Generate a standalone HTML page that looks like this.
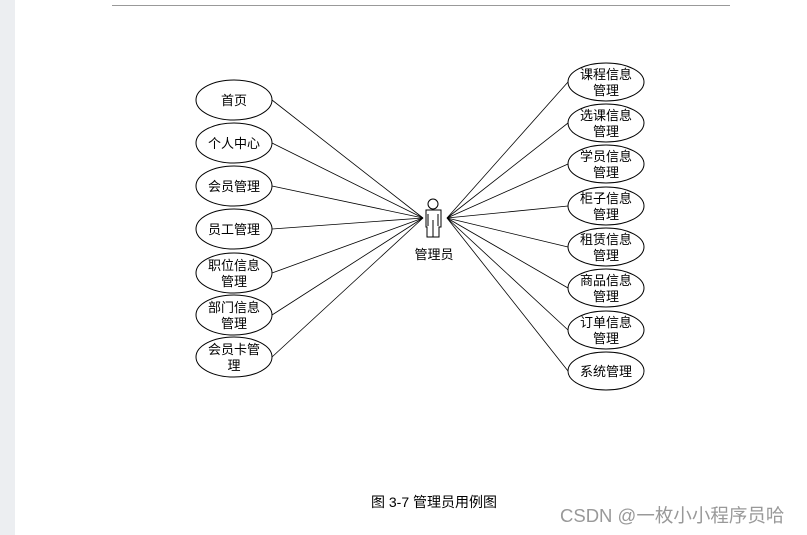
<!DOCTYPE html>
<html><head><meta charset="utf-8"><style>
body{margin:0;width:807px;height:535px;background:#fff;overflow:hidden;position:relative}
svg{position:absolute;left:0;top:0}
text{font-family:"Liberation Sans","Noto Sans CJK SC",sans-serif;font-size:13px;fill:#000}
</style></head><body>
<svg width="807" height="535">
<rect x="0" y="0" width="15" height="535" fill="#eceef1"/>
<line x1="112" y1="5.5" x2="730" y2="5.5" stroke="#999" stroke-width="1"/>
<g stroke="#000" stroke-width="0.8" fill="none">
<line x1="272" y1="100" x2="423" y2="218"/>
<line x1="272" y1="143" x2="423" y2="218"/>
<line x1="272" y1="186" x2="423" y2="218"/>
<line x1="272" y1="229" x2="423" y2="218"/>
<line x1="272" y1="273" x2="423" y2="218"/>
<line x1="272" y1="315" x2="423" y2="218"/>
<line x1="272" y1="357" x2="423" y2="218"/>
<line x1="568" y1="82" x2="447" y2="218"/>
<line x1="568" y1="123" x2="447" y2="218"/>
<line x1="568" y1="164" x2="447" y2="218"/>
<line x1="568" y1="206" x2="447" y2="218"/>
<line x1="568" y1="247" x2="447" y2="218"/>
<line x1="568" y1="288" x2="447" y2="218"/>
<line x1="568" y1="330" x2="447" y2="218"/>
<line x1="568" y1="371" x2="447" y2="218"/>
</g>
<g stroke="#000" stroke-width="1" fill="#fff">
<ellipse cx="234" cy="100" rx="38" ry="20"/>
<ellipse cx="234" cy="143" rx="38" ry="20"/>
<ellipse cx="234" cy="186" rx="38" ry="20"/>
<ellipse cx="234" cy="229" rx="38" ry="20"/>
<ellipse cx="234" cy="273" rx="38" ry="20"/>
<ellipse cx="234" cy="315" rx="38" ry="20"/>
<ellipse cx="234" cy="357" rx="38" ry="20"/>
<ellipse cx="606" cy="82" rx="38" ry="19"/>
<ellipse cx="606" cy="123" rx="38" ry="19"/>
<ellipse cx="606" cy="164" rx="38" ry="19"/>
<ellipse cx="606" cy="206" rx="38" ry="19"/>
<ellipse cx="606" cy="247" rx="38" ry="19"/>
<ellipse cx="606" cy="288" rx="38" ry="19"/>
<ellipse cx="606" cy="330" rx="38" ry="19"/>
<ellipse cx="606" cy="371" rx="38" ry="19"/>
<circle cx="433" cy="204" r="5"/>
<path d="M426 210 H441 V227 H439 V237 H427 V227 H426 Z"/>
<path d="M433 220 V237 M428 214 V226 M438 214 V226" fill="none"/>
</g>
<g text-anchor="middle">
<text x="234" y="105">首页</text>
<text x="234" y="148">个人中心</text>
<text x="234" y="191">会员管理</text>
<text x="234" y="234">员工管理</text>
<text x="234" y="270">职位信息</text><text x="234" y="286">管理</text>
<text x="234" y="312">部门信息</text><text x="234" y="328">管理</text>
<text x="234" y="354">会员卡管</text><text x="234" y="370">理</text>
<text x="606" y="79">课程信息</text><text x="606" y="95">管理</text>
<text x="606" y="120">选课信息</text><text x="606" y="136">管理</text>
<text x="606" y="161">学员信息</text><text x="606" y="177">管理</text>
<text x="606" y="203">柜子信息</text><text x="606" y="219">管理</text>
<text x="606" y="244">租赁信息</text><text x="606" y="260">管理</text>
<text x="606" y="285">商品信息</text><text x="606" y="301">管理</text>
<text x="606" y="327">订单信息</text><text x="606" y="343">管理</text>
<text x="606" y="376">系统管理</text>
<text x="434" y="259">管理员</text>
<text x="434" y="507" style="font-size:14px">图 3-7 管理员用例图</text>
</g>
<text x="560" y="522" style="font-size:18.5px;fill:#999">CSDN @一枚小小程序员哈</text>
</svg>
</body></html>
